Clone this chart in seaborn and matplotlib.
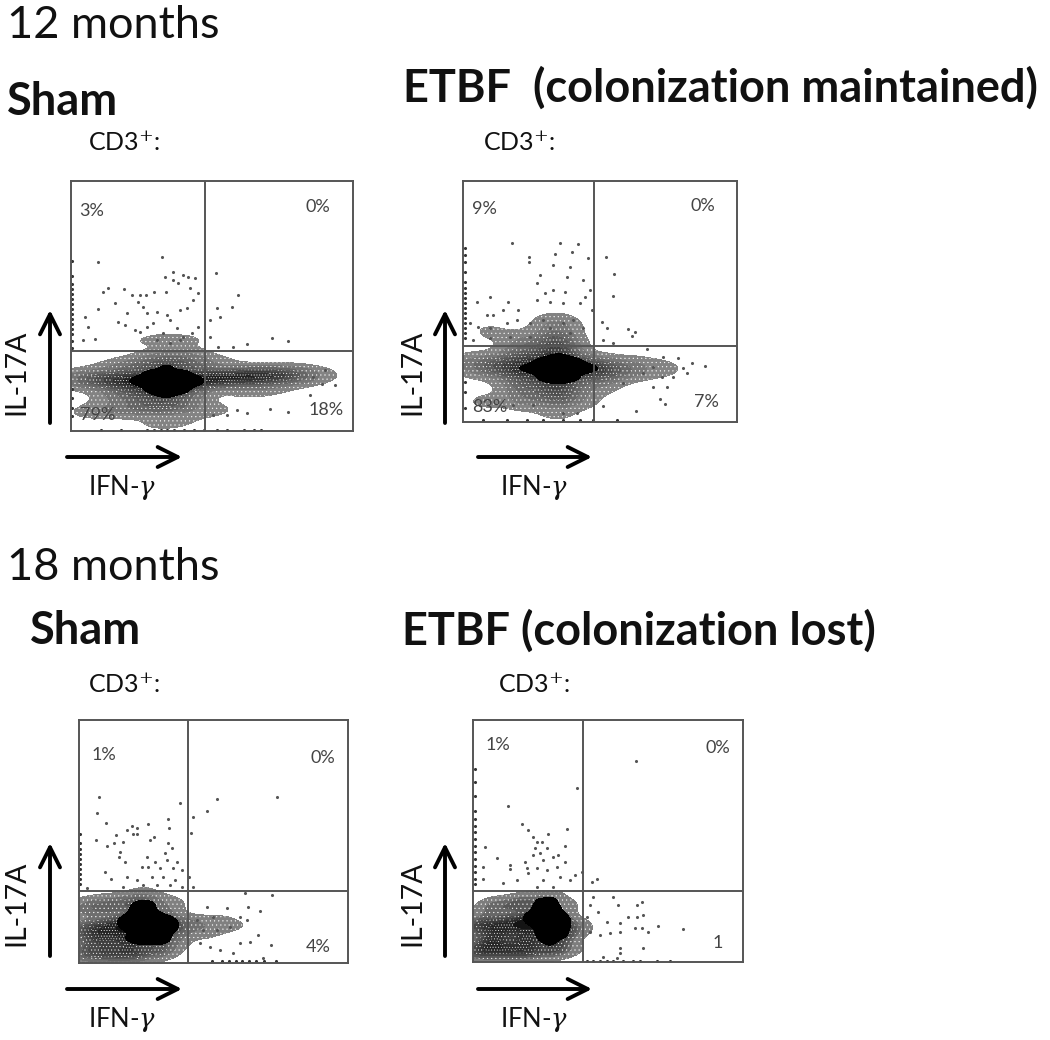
import matplotlib
matplotlib.use("Agg")
import matplotlib.pyplot as plt
from matplotlib.colors import LinearSegmentedColormap, ListedColormap
import seaborn as sns
import pandas as pd


# --------------------------------------------------------------------------------------------------
# values, in plot channels (IFN-g, IL-17A)

# broad clouds: channel x, channel y, relative weight
sham12_halo = [(30, 160, 3), (110, 155, 6), (190, 150, 10), (288, 145, 16), (380, 155, 9), (470, 160, 8),
               (560, 165, 9), (640, 165, 6), (710, 160, 1.5), (290, 75, 6), (180, 70, 3), (80, 60, 1.5),
               (420, 60, 1.2), (300, 220, 4), (250, 275, 1), (340, 270, 1), (290, 110, 8), (290, 190, 7),
               (180, 110, 4), (180, 195, 3), (400, 200, 2), (560, 125, 2), (290, 25, 1.5)]
etbf12_halo = [(30, 170, 3), (110, 165, 6), (190, 160, 10), (280, 160, 16), (370, 160, 9), (440, 155, 5),
               (520, 160, 2.5), (610, 160, 1), (280, 75, 5), (180, 70, 3), (60, 60, 1), (350, 70, 1.5),
               (280, 240, 6), (280, 290, 3), (180, 240, 2), (80, 270, 1), (280, 115, 8), (280, 200, 8),
               (180, 115, 4), (180, 200, 4), (400, 115, 2), (280, 25, 1)]
sham18_halo = [(20, 100, 7), (90, 105, 10), (160, 115, 14), (220, 120, 14), (290, 110, 6), (360, 110, 2.5),
               (420, 115, 2), (490, 110, 0.8), (20, 30, 6), (90, 30, 8), (160, 30, 9), (240, 40, 6),
               (390, 60, 0.8), (90, 170, 6), (180, 180, 8), (260, 170, 3), (200, 240, 0.8), (20, 165, 4),
               (160, 75, 12), (60, 70, 8), (260, 75, 5)]
etbf18_halo = [(20, 110, 8), (90, 110, 9), (160, 120, 11), (225, 125, 14), (285, 105, 5), (350, 100, 0.8),
               (20, 35, 8), (90, 35, 8), (160, 35, 8), (240, 40, 7), (300, 40, 1.5), (60, 165, 5),
               (140, 175, 6), (220, 185, 5), (290, 170, 1.5), (60, 70, 8), (160, 75, 9), (250, 80, 8)]

# black centres of the clouds
sham12_core = [(190, 150, 1), (240, 150, 1.5), (288, 148, 2), (340, 150, 1.5), (385, 150, 1), (288, 195, 1),
               (288, 105, 1), (240, 120, 1), (340, 120, 1), (240, 175, 1), (340, 175, 1)]
etbf12_core = [(180, 160, 1), (235, 160, 1.5), (285, 160, 2), (340, 160, 1.5), (390, 160, 1), (285, 200, 1),
               (285, 120, 1), (235, 130, 1), (335, 130, 1), (235, 185, 1), (335, 185, 1)]
sham18_core = [(130, 120, 1), (170, 125, 1.5), (215, 125, 2), (260, 120, 1.5), (290, 110, 0.6), (215, 175, 1),
               (170, 170, 1), (215, 70, 1), (170, 70, 1), (120, 70, 0.6), (260, 70, 1)]
etbf18_core = [(160, 130, 1), (200, 135, 1.5), (240, 135, 2), (280, 125, 1), (240, 180, 1), (200, 175, 1),
               (240, 80, 1), (200, 80, 1), (280, 80, 0.7), (230, 40, 0.5)]

# single events away from the dense clouds
sham12_dots = [(83, 506), (273, 521), (306, 478), (283, 461), (338, 468), (353, 461), (373, 458), (436, 473),
               (503, 408), (113, 430), (98, 417), (160, 426), (185, 409), (208, 408), (225, 408), (250, 417),
               (286, 417), (323, 443), (308, 453), (133, 383), (203, 386), (218, 373), (83, 365), (43, 343),
               (168, 355), (228, 353), (258, 358), (288, 348), (328, 363), (348, 368), (368, 393), (383, 413),
               (358, 428), (438, 368), (483, 371), (418, 333), (448, 343), (603, 278), (653, 271), (528, 261),
               (488, 253), (443, 253), (418, 283), (53, 313), (73, 275), (38, 273), (143, 326), (163, 318),
               (193, 303), (208, 298), (228, 313), (248, 323), (278, 293), (298, 333), (318, 308), (338, 283),
               (363, 293), (383, 313), (258, 273), (298, 263), (328, 273), (763, 183), (753, 140), (793, 138),
               (728, 163), (718, 108), (598, 65), (653, 58), (428, 48), (468, 48), (528, 53), (498, 63)]
etbf12_dots = [(147, 535), (290, 535), (345, 532), (325, 510), (275, 503), (375, 490), (428, 495), (198, 495),
               (198, 480), (268, 470), (320, 465), (230, 440), (453, 443), (310, 435), (360, 425), (220, 415),
               (270, 395), (305, 390), (245, 385), (450, 377), (365, 375), (380, 395), (40, 360), (80, 375),
               (135, 360), (220, 365), (260, 360), (300, 355), (350, 355), (385, 335), (165, 335), (120, 335),
               (70, 320), (90, 320), (20, 295), (45, 285), (80, 280), (130, 295), (160, 305), (200, 295),
               (240, 305), (260, 280), (300, 295), (330, 305), (360, 280), (415, 300), (495, 278), (515, 270),
               (505, 257), (430, 280), (420, 245), (450, 235), (30, 245), (80, 250), (140, 255), (200, 255),
               (270, 255), (320, 265), (550, 217), (685, 175), (725, 167), (645, 190), (600, 193), (660, 160),
               (630, 135), (595, 135), (570, 105), (610, 105), (590, 67), (605, 53), (517, 33), (420, 47),
               (570, 165), (540, 145), (670, 145), (480, 115), (150, 50), (210, 50), (300, 25), (340, 25)]
sham18_dots = [(60, 498), (55, 448), (81, 418), (303, 480), (268, 431), (206, 416), (271, 405), (158, 411),
               (143, 398), (173, 403), (163, 386), (175, 386), (110, 383), (225, 378), (51, 368), (106, 358),
               (133, 363), (85, 350), (213, 368), (268, 360), (278, 343), (258, 328), (123, 333), (121, 318),
               (138, 303), (203, 318), (228, 303), (263, 308), (293, 303), (188, 288), (208, 288), (243, 283),
               (283, 283), (308, 278), (78, 273), (96, 250), (143, 258), (173, 248), (218, 258), (253, 258),
               (288, 248), (133, 228), (193, 233), (233, 233), (273, 233), (308, 228), (23, 223), (415, 492),
               (383, 455), (341, 436), (335, 388), (595, 498), (331, 258), (343, 228), (498, 208), (578, 203),
               (543, 156), (508, 166), (503, 128), (538, 83), (575, 53), (513, 63), (483, 58), (553, 13),
               (463, 28), (423, 38), (393, 48), (363, 58), (453, 108), (413, 98), (373, 98), (443, 163),
               (483, 138), (353, 128), (403, 138), (383, 168)]
etbf18_dots = [(488, 603), (310, 522), (103, 470), (147, 415), (165, 397), (280, 400), (225, 385), (178, 375),
               (35, 345), (70, 314), (275, 349), (190, 362), (205, 362), (185, 342), (220, 342), (180, 322),
               (200, 327), (240, 317), (255, 322), (275, 302), (110, 292), (155, 302), (210, 307), (30, 285),
               (110, 279), (160, 282), (190, 282), (220, 277), (250, 287), (30, 250), (90, 237), (130, 247),
               (165, 267), (210, 247), (260, 257), (290, 247), (305, 262), (325, 272), (355, 242), (372, 250),
               (240, 227), (190, 227), (360, 197), (420, 197), (435, 172), (505, 182), (490, 172), (465, 137),
               (490, 137), (510, 142), (400, 122), (375, 152), (350, 172), (340, 137), (440, 117), (485, 102),
               (505, 102), (555, 109), (630, 99), (523, 90), (440, 92), (410, 87), (380, 82), (350, 92),
               (440, 42), (510, 42), (440, 27), (390, 17), (430, 12)]

# events piled on the IL-17A axis and the IFN-g axis
sham12_edge_y = [510, 465, 440, 425, 410, 395, 380, 365, 350, 335, 320, 305, 290, 270, 250, 125, 100, 70, 45]
sham12_edge_x = [90, 150, 230, 250, 270, 290, 310, 340, 370, 400, 440, 470, 520, 550, 570]
etbf12_edge_y = [520, 500, 480, 450, 420, 400, 385, 370, 355, 340, 325, 310, 295, 280, 265, 250, 120, 90, 40]
etbf12_edge_x = [60, 130, 190, 240, 300, 350, 390, 460]
sham18_edge_y = [385, 360, 340, 325, 310, 295, 280, 265, 250, 235]
sham18_edge_x = [400, 430, 450, 470, 490, 510, 530, 555, 590]
etbf18_edge_y = [580, 540, 500, 455, 430, 410, 390, 370, 350, 330, 310, 290, 270, 250, 235]
etbf18_edge_x = [340, 360, 380, 400, 420, 450, 480, 500, 550, 590]

quadrant_labels = [["3%", "0%", "79%", "18%"], ["9%", "0%", "83%", "7%"],
                   ["1%", "0%", "", "4%"], ["1%", "0%", "", "1"]]


# --------------------------------------------------------------------------------------------------
# layout, in pixels of the 1050x1040 figure

W, H = 1050, 1040

# left, top, right, bottom of each plot box
BOXES = [(70.7, 181, 352.7, 431), (463.3, 181, 737.3, 421.7), (79, 720, 348.3, 962.7), (473.3, 720, 742.7, 962.3)]
LIMITS = [(846, 750), (822, 722), (808, 728), (808, 727)]
GATES = [(403, 241), (392, 228), (328, 216), (328, 215)]

QUAD_POS = [[(92, 211), (318, 207), (98, 415), (326, 410)],
            [(484, 209), (703, 206), (490, 407), (706, 402)],
            [(104, 755), (323, 758), (0, 0), (318, 947)],
            [(498, 745), (718, 748), (0, 0), (718, 943)]]

# x of up arrow, y bottom, y top, x left, x right, y of right arrow
ARROWS = [(50, 423, 310, 67, 182, 457), (445, 423, 310, 478, 592, 457),
          (50, 956, 843, 67, 182, 989), (445, 956, 843, 478, 592, 989)]

CD3_POS = [(88, 143), (483, 143), (88, 685), (498, 685)]
IL17_POS = [(16, 372), (412, 372), (16, 903), (412, 903)]
IFN_POS = [(88, 487), (500, 487), (88, 1020), (500, 1020)]

HEADINGS = [("12 months", 7, 25, "normal"), ("Sham", 7, 102, "bold"),
            ("ETBF  (colonization maintained)", 403, 88, "bold"),
            ("18 months", 7, 567, "normal"), ("Sham", 30, 631, "bold"),
            ("ETBF (colonization lost)", 402, 631, "bold")]


sns.set_theme(style="white")
plt.rcParams["font.family"] = ["Lato", "DejaVu Sans"]
plt.rcParams["mathtext.fontset"] = "dejavuserif"
plt.rcParams["mathtext.default"] = "it"
plt.rcParams["hatch.color"] = "white"
plt.rcParams["hatch.linewidth"] = 0.3

halo_cmap = LinearSegmentedColormap.from_list("halo", ["#8a8a8a", "#565656", "#262626", "#080808"])
HATCHES = ["....", "....", "....", ".....", ".....", ".....", "......", "......", None, None]


def put_text(fig, px, py, s, **kw):
    kw.setdefault("va", "center")
    fig.text(px / W, 1 - py / H, s, **kw)


def plot_panel(fig, i, halo, core, dots, edge_y, edge_x):
    left, top, right, bottom = BOXES[i]
    ax = fig.add_axes([left / W, 1 - bottom / H, (right - left) / W, (bottom - top) / H])

    h = pd.DataFrame(halo, columns=["x", "y", "w"])
    sns.kdeplot(data=h, x="x", y="y", weights="w", fill=True, bw_adjust=0.65, levels=10, thresh=0.04,
                cmap=halo_cmap, gridsize=160, cut=6, ax=ax)
    ax.collections[-1].hatches = HATCHES

    c = pd.DataFrame(core, columns=["x", "y", "w"])
    sns.kdeplot(data=c, x="x", y="y", weights="w", fill=True, bw_adjust=0.8, levels=[0.3, 1],
                cmap=ListedColormap(["black"]), gridsize=120, cut=6, ax=ax)

    d = pd.DataFrame(dots, columns=["x", "y"])
    sns.scatterplot(data=d, x="x", y="y", s=5, color="#555555", linewidth=0, ax=ax)

    left_edge = pd.DataFrame({"x": 4, "y": edge_y})
    low_edge = pd.DataFrame({"x": edge_x, "y": 4})
    sns.scatterplot(data=left_edge, x="x", y="y", s=5, color="#333333", linewidth=0, ax=ax)
    sns.scatterplot(data=low_edge, x="x", y="y", s=5, color="#333333", linewidth=0, ax=ax)

    ax.set_xlim(0, LIMITS[i][0])
    ax.set_ylim(0, LIMITS[i][1])
    ax.set_xticks([])
    ax.set_yticks([])
    ax.set_xlabel("")
    ax.set_ylabel("")
    ax.axvline(GATES[i][0], color="#555555", lw=1.4)
    ax.axhline(GATES[i][1], color="#555555", lw=1.4)
    for sp in ax.spines.values():
        sp.set_color("#555555")
        sp.set_linewidth(1.4)

    # arrows
    ux, uy0, uy1, rx0, rx1, ry = ARROWS[i]
    style = dict(arrowstyle="->", color="black", lw=2.8, mutation_scale=36, shrinkA=0, shrinkB=0)
    ax.annotate("", xy=(ux, H - uy1), xytext=(ux, H - uy0), xycoords="figure pixels",
                textcoords="figure pixels", arrowprops=style, annotation_clip=False)
    ax.annotate("", xy=(rx1, H - ry), xytext=(rx0, H - ry), xycoords="figure pixels",
                textcoords="figure pixels", arrowprops=style, annotation_clip=False)

    # text around the box
    put_text(fig, *CD3_POS[i], "CD3$^{+}$:", fontsize=18, color="#111111")
    put_text(fig, *IL17_POS[i], "IL-17A", fontsize=20.5, rotation=90, ha="center", color="#111111")
    put_text(fig, *IFN_POS[i], "IFN-$\\gamma$", fontsize=18.5, color="#111111")
    for s, pos in zip(quadrant_labels[i], QUAD_POS[i]):
        if s:
            put_text(fig, pos[0], pos[1], s, fontsize=13, ha="center", color="#444444", zorder=5)


# --------------------------------------------------------------------------------------------------

fig = plt.figure(figsize=(W / 100, H / 100), dpi=100)

plot_panel(fig, 0, sham12_halo, sham12_core, sham12_dots, sham12_edge_y, sham12_edge_x)
plot_panel(fig, 1, etbf12_halo, etbf12_core, etbf12_dots, etbf12_edge_y, etbf12_edge_x)
plot_panel(fig, 2, sham18_halo, sham18_core, sham18_dots, sham18_edge_y, sham18_edge_x)
plot_panel(fig, 3, etbf18_halo, etbf18_core, etbf18_dots, etbf18_edge_y, etbf18_edge_x)

for s, px, py, weight in HEADINGS:
    put_text(fig, px, py, s, fontsize=32.5, fontweight=weight, color="#111111")

fig.savefig("out.png", dpi=100, facecolor="white")
